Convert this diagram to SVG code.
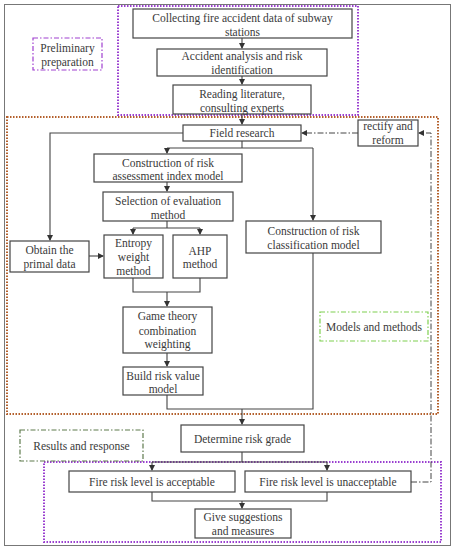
<svg xmlns="http://www.w3.org/2000/svg" width="456" height="550" viewBox="0 0 456 550">
<defs>
<marker id="ah" markerWidth="6" markerHeight="6" refX="5" refY="3" orient="auto" markerUnits="userSpaceOnUse">
<path d="M0,0 L6,3 L0,6 Z" fill="#333"/>
</marker>
<style>
.box{fill:#fff;stroke:#444;stroke-width:1.2}
.t{font-family:"Liberation Serif","DejaVu Serif",serif;font-size:11.5px;fill:#3a3a3a;text-anchor:middle}
.ln{fill:none;stroke:#444;stroke-width:1.1}
.dd{fill:none;stroke:#444;stroke-width:1;stroke-dasharray:6 2 1.5 2}
.pur{fill:none;stroke:#9a3fd0;stroke-width:2;stroke-dasharray:1.5 1.5}
.org{fill:none;stroke:#b4602c;stroke-width:2;stroke-dasharray:1.5 1.5}
</style>
</defs>
<rect x="0" y="0" width="456" height="550" fill="#fff"/>
<rect x="4.5" y="4.5" width="446" height="541" fill="none" stroke="#777" stroke-width="1"/>

<g id="regions">
<rect class="pur" x="118" y="6" width="240" height="109"/>
<rect class="org" x="7" y="117" width="431" height="297"/>
<rect class="pur" x="44" y="462" width="397" height="80"/>
</g>

<g id="label-preliminary">
<rect x="33" y="38" width="69" height="32" fill="none" stroke="#a040d0" stroke-width="1.2" stroke-dasharray="5 2 1.5 2"/>
<text class="t" x="67.5" y="52">Preliminary</text>
<text class="t" x="67.5" y="66">preparation</text>
</g>
<g id="label-models">
<rect x="320" y="312" width="108" height="29" fill="none" stroke="#7fd050" stroke-width="1.2" stroke-dasharray="5 2 1.5 2"/>
<text class="t" x="374" y="331">Models and methods</text>
</g>
<g id="label-results">
<rect x="20" y="430" width="123" height="31" fill="none" stroke="#5e7a4c" stroke-width="1.2" stroke-dasharray="5 2 1.5 2"/>
<text class="t" x="81.5" y="450">Results and response</text>
</g>

<g id="connectors">
<path class="ln" d="M242,38 V48" marker-end="url(#ah)"/>
<path class="ln" d="M242,76 V84" marker-end="url(#ah)"/>
<path class="ln" d="M242,114 V124" marker-end="url(#ah)"/>
<path class="ln" d="M242,141 V148 M167,148 H313"/>
<path class="ln" d="M167,148 V153" marker-end="url(#ah)"/>
<path class="ln" d="M313,148 V220" marker-end="url(#ah)"/>
<path class="ln" d="M183,133 H50 V240" marker-end="url(#ah)"/>
<path class="ln" d="M167,182 V191" marker-end="url(#ah)"/>
<path class="ln" d="M167,221 V228 M133,228 H200"/>
<path class="ln" d="M133,228 V234" marker-end="url(#ah)"/>
<path class="ln" d="M200,228 V234" marker-end="url(#ah)"/>
<path class="ln" d="M89,256 H103" marker-end="url(#ah)"/>
<path class="ln" d="M133,278 V292 H200 V278"/>
<path class="ln" d="M167,292 V306" marker-end="url(#ah)"/>
<path class="ln" d="M167,353 V366" marker-end="url(#ah)"/>
<path class="ln" d="M167,395 V409 H313 V253"/>
<path class="ln" d="M242,409 V424" marker-end="url(#ah)"/>
<path class="ln" d="M242,452 V462 M152,462 H327"/>
<path class="ln" d="M152,462 V470" marker-end="url(#ah)"/>
<path class="ln" d="M327,462 V470" marker-end="url(#ah)"/>
<path class="ln" d="M152,492 V501 H327 V492"/>
<path class="ln" d="M242,501 V508" marker-end="url(#ah)"/>
<path class="dd" d="M411,482 H431 V133 H419" marker-end="url(#ah)"/>
<path class="dd" d="M358,133 H302" marker-end="url(#ah)"/>
</g>

<g id="n-collect">
<rect class="box" x="133" y="9" width="219" height="29"/>
<text class="t" x="242.5" y="21.5">Collecting fire accident data of subway</text>
<text class="t" x="242.5" y="36">stations</text>
</g>
<g id="n-analysis">
<rect class="box" x="157" y="49" width="170" height="27"/>
<text class="t" x="242" y="60">Accident analysis and risk</text>
<text class="t" x="242" y="74">identification</text>
</g>
<g id="n-reading">
<rect class="box" x="173" y="85" width="138" height="29"/>
<text class="t" x="242" y="97.5">Reading literature,</text>
<text class="t" x="242" y="112">consulting experts</text>
</g>
<g id="n-field">
<rect class="box" x="183" y="125" width="118" height="16"/>
<text class="t" x="242" y="137">Field research</text>
</g>
<g id="n-rectify">
<rect class="box" x="358" y="120" width="60" height="26"/>
<text class="t" x="388" y="130">rectify and</text>
<text class="t" x="388" y="144">reform</text>
</g>
<g id="n-index">
<rect class="box" x="94" y="154" width="148" height="28"/>
<text class="t" x="168" y="167">Construction of risk</text>
<text class="t" x="168" y="180">assessment index model</text>
</g>
<g id="n-selection">
<rect class="box" x="103" y="192" width="130" height="29"/>
<text class="t" x="168" y="205">Selection of evaluation</text>
<text class="t" x="168" y="219">method</text>
</g>
<g id="n-obtain">
<rect class="box" x="10" y="241" width="79" height="31"/>
<text class="t" x="49.5" y="254">Obtain the</text>
<text class="t" x="49.5" y="268">primal data</text>
</g>
<g id="n-entropy">
<rect class="box" x="104" y="235" width="59" height="43"/>
<text class="t" x="133.5" y="247">Entropy</text>
<text class="t" x="133.5" y="261">weight</text>
<text class="t" x="133.5" y="275">method</text>
</g>
<g id="n-ahp">
<rect class="box" x="173" y="235" width="54" height="43"/>
<text class="t" x="200" y="255">AHP</text>
<text class="t" x="200" y="268">method</text>
</g>
<g id="n-classification">
<rect class="box" x="246" y="221" width="135" height="32"/>
<text class="t" x="313.5" y="235">Construction of risk</text>
<text class="t" x="313.5" y="249">classification model</text>
</g>
<g id="n-game">
<rect class="box" x="123" y="307" width="89" height="46"/>
<text class="t" x="167.5" y="320">Game theory</text>
<text class="t" x="167.5" y="334.5">combination</text>
<text class="t" x="167.5" y="348">weighting</text>
</g>
<g id="n-build">
<rect class="box" x="123" y="367" width="80" height="28"/>
<text class="t" x="163" y="380">Build risk value</text>
<text class="t" x="163" y="393">model</text>
</g>
<g id="n-determine">
<rect class="box" x="181" y="425" width="123" height="27"/>
<text class="t" x="242.5" y="443">Determine risk grade</text>
</g>
<g id="n-acceptable">
<rect class="box" x="69" y="471" width="166" height="21"/>
<text class="t" x="152" y="486">Fire risk level is acceptable</text>
</g>
<g id="n-unacceptable">
<rect class="box" x="245" y="471" width="166" height="21"/>
<text class="t" x="328" y="486">Fire risk level is unacceptable</text>
</g>
<g id="n-suggestions">
<rect class="box" x="195" y="509" width="96" height="29"/>
<text class="t" x="243" y="521">Give suggestions</text>
<text class="t" x="243" y="535">and measures</text>
</g>
</svg>
